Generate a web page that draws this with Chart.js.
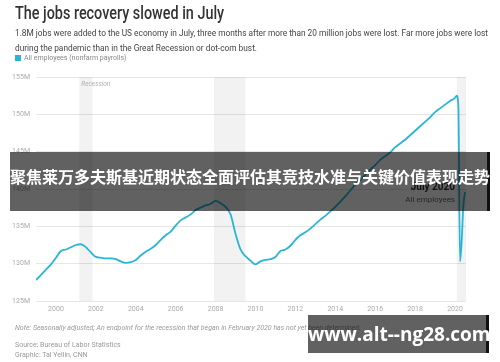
<!DOCTYPE html>
<html>
<head>
<meta charset="utf-8">
<script src="https://cdn.jsdelivr.net/npm/chart.js@4"></script>
<style>
  body { margin: 0; width: 500px; height: 362px; background: #fff; position: relative; overflow: hidden; font-family: Roboto, "Noto Sans", sans-serif; }
  #chart { position: absolute; left: 0; top: 0; }
  .t { position: absolute; white-space: nowrap; transform-origin: 0 0; }
  #title { left: 15px; top: 2px; font-size: 18px; font-weight: 500; color: #333; transform: scaleX(0.8); }
  .sub { left: 15px; font-size: 9.5px; color: #444; transform: scaleX(0.875); }
  #legend { left: 15px; top: 54px; font-size: 7px; color: #888; }
  #legend i { display: inline-block; width: 6px; height: 6px; background: #29b5d5; margin-right: 3px; vertical-align: -1px; }
  .foot { left: 15px; font-size: 7px; color: #999; }
  .banner { position: absolute; background: rgba(0,0,0,0.62); border-right: 3px solid #111; color: #fff; font-weight: bold; white-space: nowrap; }
  #b1 { left: 10px; top: 152px; width: 477px; height: 59px; font-family: "Noto Sans CJK SC", sans-serif; font-size: 16px; line-height: 48px; text-align: center; }
  #b2 { left: 308px; top: 315px; width: 178px; height: 38px; font-family: "Open Sans", "Noto Sans", sans-serif; font-size: 19px; line-height: 38px; text-align: center; }
</style>
</head>
<body>
<canvas id="chart" width="500" height="362"></canvas>
<div class="t" id="title">The jobs recovery slowed in July</div>
<div class="t sub" style="top:27px">1.8M jobs were added to the US economy in July, three months after more than 20 million jobs were lost. Far more jobs were lost</div>
<div class="t sub" style="top:42px">during the pandemic than in the Great Recession or dot-com bust.</div>
<div class="t" id="legend"><i></i>All employees (nonfarm payrolls)</div>
<div class="t foot" style="top:324px; font-style: italic;">Note: Seasonally adjusted; An endpoint for the recession that began in February 2020 has not yet been determined.</div>
<div class="t foot" style="top:341px">Source: Bureau of Labor Statistics</div>
<div class="t foot" style="top:351px">Graphic: Tal Yellin, CNN</div>
<div class="banner" id="b1">聚焦莱万多夫斯基近期状态全面评估其竞技水准与关键价值表现走势</div>
<div class="banner" id="b2">www.alt--ng28.com</div>
<script>
// quarterly points (Jan, Apr, Jul, Oct) 1999-2019, monthly for 2020
const dates = [
  1999.00, 1999.25, 1999.50, 1999.75,
  2000.00, 2000.25, 2000.50, 2000.75,
  2001.00, 2001.25, 2001.50, 2001.75,
  2002.00, 2002.25, 2002.50, 2002.75,
  2003.00, 2003.25, 2003.50, 2003.75,
  2004.00, 2004.25, 2004.50, 2004.75,
  2005.00, 2005.25, 2005.50, 2005.75,
  2006.00, 2006.25, 2006.50, 2006.75,
  2007.00, 2007.25, 2007.50, 2007.75,
  2008.00, 2008.25, 2008.50, 2008.75,
  2009.00, 2009.25, 2009.50, 2009.75,
  2010.00, 2010.25, 2010.50, 2010.75,
  2011.00, 2011.25, 2011.50, 2011.75,
  2012.00, 2012.25, 2012.50, 2012.75,
  2013.00, 2013.25, 2013.50, 2013.75,
  2014.00, 2014.25, 2014.50, 2014.75,
  2015.00, 2015.25, 2015.50, 2015.75,
  2016.00, 2016.25, 2016.50, 2016.75,
  2017.00, 2017.25, 2017.50, 2017.75,
  2018.00, 2018.25, 2018.50, 2018.75,
  2019.00, 2019.25, 2019.50, 2019.75,
  2020.00, 2020.083, 2020.167, 2020.25, 2020.333, 2020.417, 2020.50
];
// all employees, millions
const payrolls = [
  127.8, 128.5, 129.2, 129.9,
  130.8, 131.7, 131.9, 132.2,
  132.5, 132.6, 132.2, 131.5,
  130.9, 130.8, 130.7, 130.7,
  130.6, 130.3, 130.1, 130.2,
  130.5, 131.1, 131.6, 132.0,
  132.5, 133.2, 133.8, 134.3,
  135.1, 135.8, 136.2, 136.6,
  137.2, 137.5, 137.8, 138.0,
  138.4, 138.1, 137.6, 136.6,
  134.0, 131.9, 131.0, 130.4,
  129.9, 130.3, 130.5, 130.6,
  130.9, 131.7, 131.9, 132.4,
  133.2, 133.8, 134.2, 134.7,
  135.3, 135.9, 136.4, 137.0,
  137.6, 138.3, 139.0, 139.8,
  140.6, 141.2, 141.9, 142.6,
  143.2, 143.9, 144.4, 144.9,
  145.6, 146.1, 146.6, 147.2,
  147.8, 148.4, 149.0, 149.6,
  150.3, 150.8, 151.3, 151.8,
  152.2, 152.5, 151.1, 130.3, 133.0, 137.8, 139.6
];
const recessionStart = [2001.17, 2007.92, 2020.09];
const recessionEnd = [2001.83, 2009.5, 2020.55];
const yTicks = [125, 130, 135, 140, 145, 150, 155];
const xTicks = [2000, 2002, 2004, 2006, 2008, 2010, 2012, 2014, 2016, 2018, 2020];

const lineColor = '#29b5d5';

const shading = {
  id: 'shading',
  beforeDatasetsDraw(chart) {
    const { ctx, chartArea, scales } = chart;
    ctx.save();
    ctx.fillStyle = 'rgba(0,0,0,0.05)';
    for (let i = 0; i < recessionStart.length; i++) {
      const x0 = scales.x.getPixelForValue(recessionStart[i]);
      const x1 = Math.min(scales.x.getPixelForValue(recessionEnd[i]), chartArea.right);
      ctx.fillRect(x0, chartArea.top, x1 - x0, chartArea.bottom - chartArea.top);
    }
    ctx.fillStyle = '#b0b0b0';
    ctx.font = 'italic 6.5px Roboto, sans-serif';
    ctx.textBaseline = 'middle';
    ctx.fillText('Recession', scales.x.getPixelForValue(recessionStart[0]) + 2, chartArea.top + 7);
    ctx.restore();
  },
  afterDatasetsDraw(chart) {
    const { ctx, scales } = chart;
    const n = dates.length - 1;
    const x = scales.x.getPixelForValue(dates[n]) - 10;
    const y = scales.y.getPixelForValue(payrolls[n]);
    ctx.save();
    ctx.textAlign = 'right';
    ctx.textBaseline = 'middle';
    ctx.fillStyle = '#333';
    ctx.font = 'bold 10px Roboto, sans-serif';
    ctx.fillText('July 2020', x, y - 4);
    ctx.fillStyle = '#666';
    ctx.font = '8px Roboto, sans-serif';
    ctx.fillText('All employees', x, y + 8);
    ctx.restore();
  }
};

new Chart(document.getElementById('chart'), {
  type: 'line',
  data: {
    datasets: [{
      data: dates.map((d, i) => ({ x: d, y: payrolls[i] })),
      borderColor: lineColor,
      borderWidth: 1.8,
      pointRadius: 0,
      cubicInterpolationMode: 'monotone',
      fill: false
    }]
  },
  options: {
    responsive: false,
    animation: false,
    layout: { padding: { top: 77, left: 0, right: 34, bottom: 41 } },
    plugins: { legend: { display: false }, tooltip: { enabled: false } },
    scales: {
      x: {
        type: 'linear',
        min: 1999,
        max: 2020.55,
        afterBuildTicks: (s) => { s.ticks = xTicks.map(v => ({ value: v })); },
        afterFit: (s) => { s.height = 20; },
        grid: { display: false, drawTicks: false },
        border: { display: false },
        ticks: { color: '#aaa', font: { size: 7, family: 'Roboto' }, padding: 4, callback: v => String(v), maxRotation: 0 }
      },
      y: {
        min: 125,
        max: 155,
        afterBuildTicks: (s) => { s.ticks = yTicks.map(v => ({ value: v })); },
        afterFit: (s) => { s.width = 36; },
        grid: { color: '#e6e6e6', drawTicks: false },
        border: { display: false },
        ticks: { color: '#aaa', font: { size: 7, family: 'Roboto' }, padding: 6, callback: v => v + 'M' }
      }
    }
  },
  plugins: [shading]
});
</script>
</body>
</html>
